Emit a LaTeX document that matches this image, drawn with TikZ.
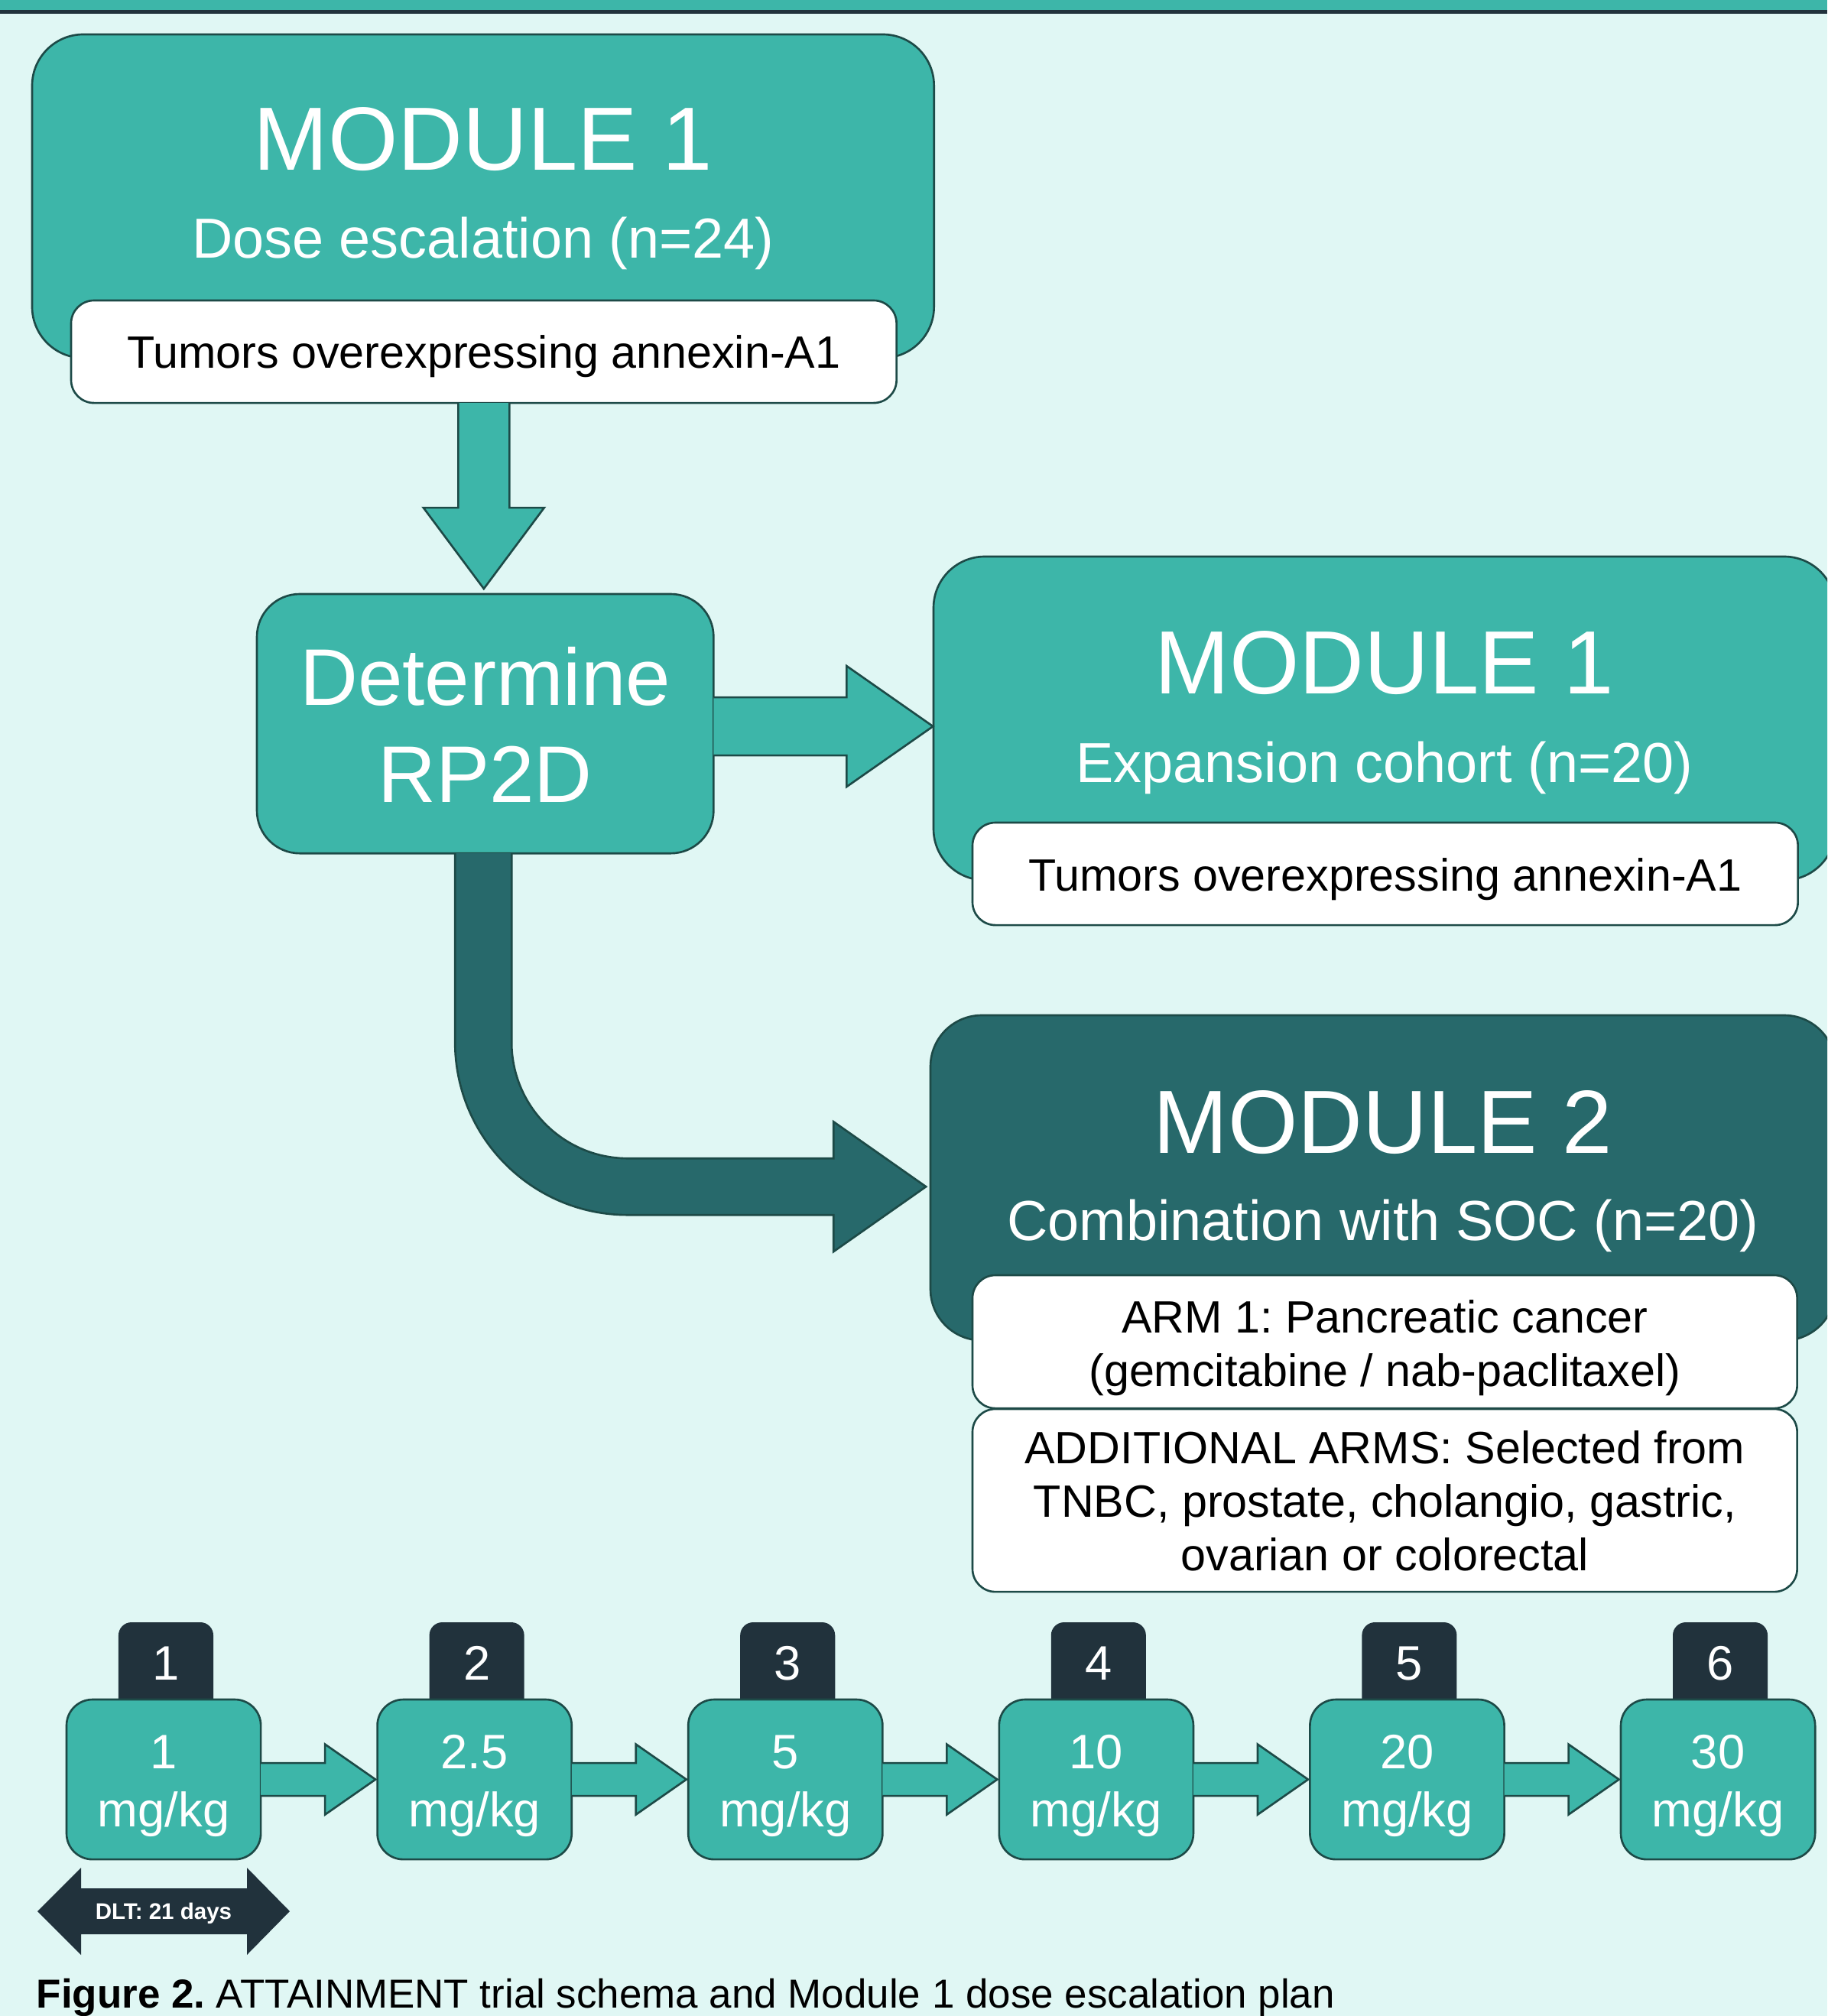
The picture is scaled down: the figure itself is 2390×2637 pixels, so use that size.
\documentclass[tikz,border=0pt]{standalone}
\usepackage{fontspec}
\setmainfont{Liberation Sans}
\usetikzlibrary{calc}
\frenchspacing
\definecolor{cBg}{HTML}{E0F7F4}
\definecolor{cTeal}{HTML}{3DB6A9}
\definecolor{cDark}{HTML}{27696B}
\definecolor{cNavy}{HTML}{21323C}
\definecolor{cEdge}{HTML}{1D4A47}
\newcommand{\fTitle}{\fontsize{33.4}{40}\selectfont}
\newcommand{\fSub}{\fontsize{21}{25}\selectfont}
\newcommand{\fWhite}{\fontsize{16.85}{19.92}\selectfont}
\newcommand{\fDet}{\fontsize{29.9}{36.14}\selectfont}
\newcommand{\fDose}{\fontsize{18}{21.62}\selectfont}
\begin{document}
\begin{tikzpicture}[x=0.01cm, y=-0.01cm,
  box/.style={draw=cEdge, line width=0.75pt, inner sep=0pt, outer sep=0pt, anchor=north west},
  modbox/.style={box, fill=cTeal, rounded corners=0.67cm, minimum width=11.79cm, minimum height=4.23cm},
  darkbox/.style={box, fill=cDark, rounded corners=0.67cm},
  whitebox/.style={box, fill=white, rounded corners=0.3cm},
  detbox/.style={box, fill=cTeal, rounded corners=0.56cm},
  dosebox/.style={box, fill=cTeal, rounded corners=0.34cm, minimum width=2.54cm, minimum height=2.09cm},
  lblbox/.style={fill=cNavy, rounded corners=0.17cm, inner sep=0pt, outer sep=0pt, anchor=north, minimum width=1.24cm, minimum height=1.3cm},
  titletext/.style={anchor=base, inner sep=0pt, text=white, font=\fTitle},
  subtext/.style={anchor=base, inner sep=0pt, text=white, font=\fSub},
  blacktext/.style={inner sep=0pt, text=black, font=\fWhite, align=center},
  tealarrow/.style={fill=cTeal, draw=cEdge, line width=0.75pt, line join=miter},
  darkarrow/.style={fill=cDark, draw=cEdge, line width=0.75pt, line join=miter}
]
\useasboundingbox (0,0) rectangle (2390,2637);
\clip (0,0) rectangle (2390,2637);
\fill[cBg] (0,0) rectangle (2390,2637);
% top band
\fill[cTeal] (0,0) rectangle (2390,12.7);
\fill[cNavy] (0,12.7) rectangle (2390,17.7);

% Module 1 (dose escalation)
\node[modbox] (m1) at (42,45) {};
\node[titletext] (m1t) at ($(m1.north)+(0,178)$) {MODULE 1};
\node[subtext] (m1s) at ($(m1.north)+(0,292.5)$) {Dose escalation (n=24)};
\node[whitebox, minimum width=10.79cm, minimum height=1.34cm] (m1w) at (93,393) {};
\node[blacktext, anchor=base] (m1wt) at ($(m1w.north)+(0,89)$) {Tumors overexpressing annexin-A1};

% Determine RP2D
\node[detbox, minimum width=5.97cm, minimum height=3.39cm] (det) at (336,777) {};
\node[inner sep=0pt, text=white, font=\fDet, align=center, anchor=north] (dett) at ($(det.north)+(0,56)$) {\strut Determine\\RP2D};

% Module 1 expansion
\node[modbox] (m1e) at (1221,728) {};
\node[titletext] (m1et) at ($(m1e.north)+(0,179)$) {MODULE 1};
\node[subtext] (m1es) at ($(m1e.north)+(0,295)$) {Expansion cohort (n=20)};
\node[whitebox, minimum width=10.79cm, minimum height=1.34cm] (m1ew) at (1272,1076) {};
\node[blacktext, anchor=base] (m1ewt) at ($(m1ew.north)+(0,89)$) {Tumors overexpressing annexin-A1};

% Module 2
\node[darkbox, minimum width=11.83cm, minimum height=4.25cm] (m2) at (1217,1328) {};
\node[titletext] (m2t) at ($(m2.north)+(0,180)$) {MODULE 2};
\node[subtext] (m2s) at ($(m2.north)+(0,294)$) {Combination with SOC (n=20)};
\node[whitebox, minimum width=10.78cm, minimum height=1.74cm] (arm1) at (1272,1668) {};
\node[blacktext, anchor=north] (arm1t) at ($(arm1.north)+(0,26)$) {\strut ARM 1: Pancreatic cancer\\(gemcitabine / nab-paclitaxel)};
\node[whitebox, minimum width=10.78cm, minimum height=2.39cm] (arms) at (1272,1843) {};
\node[blacktext, anchor=north] (armst) at ($(arms.north)+(0,22)$) {\strut ADDITIONAL ARMS: Selected from\\TNBC, prostate, cholangio, gastric,\\ovarian or colorectal};

% arrow: module 1 -> determine
\filldraw[tealarrow, shift={(m1w.south)}] (-33.5,0) -- (-33.5,137) -- (-79,137) -- (0,243) -- (79,137) -- (33.5,137) -- (33.5,0);
% arrow: determine -> expansion
\filldraw[tealarrow, shift={($(det.east)+(0,3.5)$)}] (0,-38) -- (174,-38) -- (174,-79) -- (287,0) -- (174,79) -- (174,38) -- (0,38);
% curved arrow: determine -> module 2
\filldraw[darkarrow, shift={($(det.south)+(-2.5,0)$)}]
  (-37,0) -- (-37,247) .. controls (-37,371.8) and (64.2,473) .. (189,473)
  -- (458,473) -- (458,521) -- (579,436) -- (458,351) -- (458,399) -- (189,399)
  .. controls (105.05,399) and (37,330.95) .. (37,247) -- (37,0);

% dose escalation row
\foreach \i/\v in {1/1,2/2.5,3/5,4/10,5/20,6/30}{
  \pgfmathsetmacro{\xx}{87+(\i-1)*406.6}
  \node[lblbox] (l\i) at (\xx+130,2122) {};
  \node[anchor=base, inner sep=0pt, text=white, font=\fDose] (lt\i) at ($(l\i.north)+(0,75)$) {\i};
  \node[dosebox] (d\i) at (\xx,2223) {};
  \node[anchor=north, inner sep=0pt, text=white, font=\fDose, align=center] (dt\i) at ($(d\i.north)+(0,36.8)$) {\strut \v\\mg/kg};
}
\foreach \i in {1,...,5}{
  \filldraw[tealarrow, shift={(d\i.east)}] (0,-21.5) -- (84,-21.5) -- (84,-46) -- (150,0) -- (84,46) -- (84,21.5) -- (0,21.5);
}

% DLT double arrow
\fill[cNavy] (49,2500) -- (106,2443) -- (106,2470) -- (323,2470) -- (323,2443) -- (379,2500)
  -- (323,2557) -- (323,2530) -- (106,2530) -- (106,2557) -- cycle;
\node[anchor=base, inner sep=0pt, text=white, font=\fontsize{8.4}{10}\selectfont\bfseries] (dlt) at (214,2510) {DLT: 21 days};

% caption
\node[anchor=base west, inner sep=0pt, font=\fontsize{15.05}{18}\selectfont] (cap) at (47,2626) {\textbf{Figure 2.} ATTAINMENT trial schema and Module 1 dose escalation plan};
\end{tikzpicture}
\end{document}
